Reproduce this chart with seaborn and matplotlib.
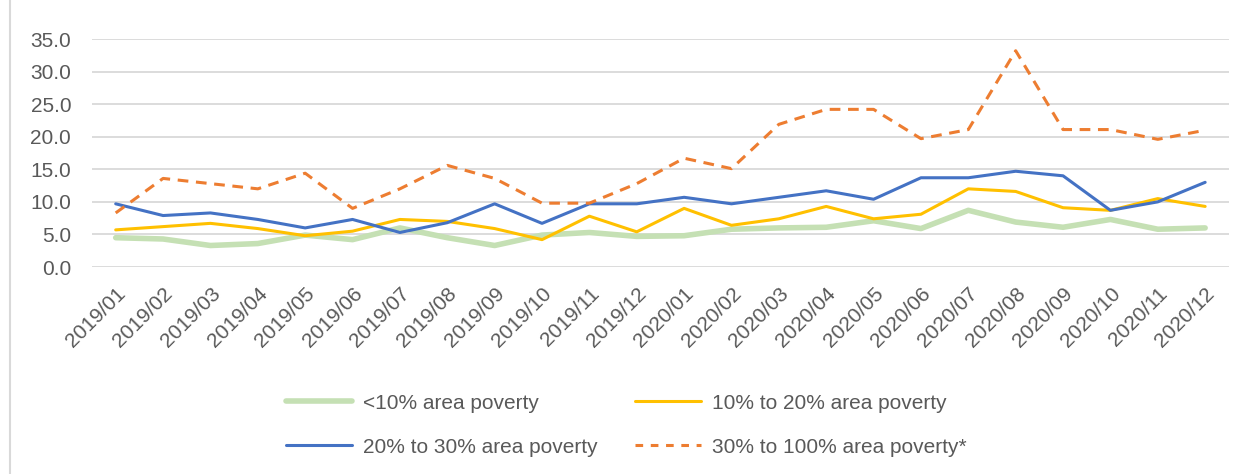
import matplotlib
matplotlib.use("Agg")
import matplotlib.pyplot as plt
from matplotlib.lines import Line2D
import seaborn as sns
import pandas as pd

months = [
    "2019/01", "2019/02", "2019/03", "2019/04", "2019/05", "2019/06",
    "2019/07", "2019/08", "2019/09", "2019/10", "2019/11", "2019/12",
    "2020/01", "2020/02", "2020/03", "2020/04", "2020/05", "2020/06",
    "2020/07", "2020/08", "2020/09", "2020/10", "2020/11", "2020/12",
]

under_10 = [4.5, 4.3, 3.3, 3.6, 4.9, 4.2, 6.0, 4.5, 3.3, 4.9, 5.3, 4.7,
            4.8, 5.8, 6.0, 6.1, 7.1, 5.9, 8.7, 6.9, 6.1, 7.3, 5.8, 6.0]
p10_20 = [5.7, 6.2, 6.7, 5.9, 4.8, 5.5, 7.3, 7.0, 5.9, 4.2, 7.8, 5.4,
          9.0, 6.4, 7.4, 9.3, 7.4, 8.1, 12.0, 11.6, 9.1, 8.7, 10.5, 9.3]
p20_30 = [9.7, 7.9, 8.3, 7.3, 6.0, 7.3, 5.3, 6.8, 9.7, 6.7, 9.7, 9.7,
          10.7, 9.7, 10.7, 11.7, 10.4, 13.7, 13.7, 14.7, 14.0, 8.7, 10.0, 13.0]
p30_100 = [8.3, 13.6, 12.8, 12.0, 14.4, 9.0, 12.0, 15.6, 13.6, 9.8, 9.8, 12.8,
           16.7, 15.1, 21.9, 24.2, 24.2, 19.7, 21.1, 33.2, 21.1, 21.1, 19.6, 21.0]

series_names = ["<10% area poverty", "10% to 20% area poverty",
                "20% to 30% area poverty", "30% to 100% area poverty*"]
series_values = [under_10, p10_20, p20_30, p30_100]
colors = ["#c5e0b4", "#ffc000", "#4472c4", "#ed7d31"]
widths = [4.0, 2.2, 2.2, 2.2]

rows = []
for name, vals in zip(series_names, series_values):
    for i, v in enumerate(vals):
        rows.append({"month": i, "label": months[i], "series": name, "value": v})
df = pd.DataFrame(rows)

sns.set_style("white")
plt.rcParams["font.family"] = ["Liberation Sans", "DejaVu Sans"]

fig = plt.figure(figsize=(12.52, 4.74), dpi=100)
ax = fig.add_axes([0.0735, 0.4367, 0.908, 0.481])

for name, col, lw in zip(series_names, colors, widths):
    sub = df[df["series"] == name]
    sns.lineplot(data=sub, x="month", y="value", color=col,
                 linewidth=lw, ax=ax, label=name)
ax.lines[-1].set_dashes([3.5, 2.5])

ax.set_xlim(-0.5, 23.5)
ax.set_ylim(0, 35)
yt = [0, 5, 10, 15, 20, 25, 30, 35]
ax.set_yticks(yt)
ax.set_yticklabels([f"{t:.1f}" for t in yt], fontsize=15, color="#595959")
ax.set_xticks(range(len(months)))
ax.set_xticklabels(months, rotation=45, ha="right", rotation_mode="anchor",
                   fontsize=15, color="#595959")
ax.tick_params(axis="y", length=0, pad=15)
ax.tick_params(axis="x", length=0, pad=12)
ax.set_xlabel("")
ax.set_ylabel("")
ax.yaxis.grid(True, color="#d9d9d9", linewidth=1.3)
ax.set_axisbelow(True)
for s in ax.spines.values():
    s.set_visible(False)

ax.legend_.remove()
handles = [Line2D([0], [0], color=c, linewidth=w) for c, w in zip(colors, widths)]
handles[-1].set_dashes([2.5, 2.5])
order = [0, 2, 1, 3]
fig.legend([handles[i] for i in order], [series_names[i] for i in order],
           loc="center", bbox_to_anchor=(0.5, 0.103), ncol=2, frameon=False,
           fontsize=15, handlelength=3.2, handletextpad=0.5,
           columnspacing=1.8, labelspacing=1.2, labelcolor="#595959")

fig.add_artist(Line2D([0.008, 0.008], [0, 1], transform=fig.transFigure,
                      color="#d9d9d9", linewidth=1.5))

fig.savefig("out.png", dpi=100)
